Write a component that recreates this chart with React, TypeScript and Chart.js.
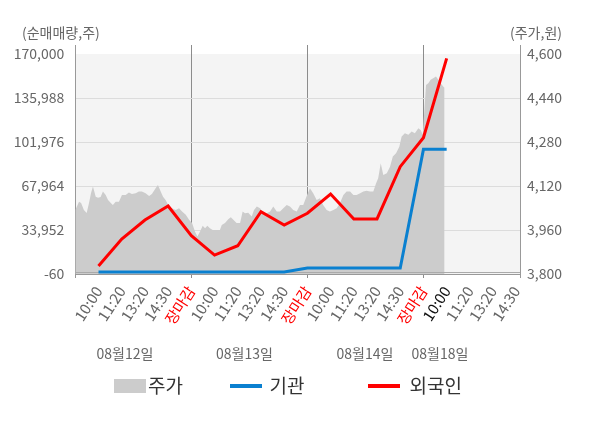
import React, { useEffect, useRef } from "react";
import { Chart, registerables } from "chart.js";

Chart.register(...registerables);

const FONT = "'Noto Sans CJK KR', 'Noto Sans', sans-serif";

// x axis: session slots (1..19), day boundaries at 장마감
const xTickPositions = [1, 2, 3, 4, 5, 6, 7, 8, 9, 10, 11, 12, 13, 14, 15, 16, 17, 18, 19];
const xTickLabels = [
  "10:00", "11:20", "13:20", "14:30", "장마감",
  "10:00", "11:20", "13:20", "14:30", "장마감",
  "10:00", "11:20", "13:20", "14:30", "장마감",
  "10:00", "11:20", "13:20", "14:30",
];
const xMax = 19.16;
const dayDividers = [5, 10, 15];
const dayLabels = ["08월12일", "08월13일", "08월14일", "08월18일"];
const dayLabelPositions = [2.14, 7.29, 12.48, 15.71];
const highlightTick = 16;

// net buying (left axis, 주)
const sessionPositions = [1, 2, 3, 4, 5, 6, 7, 8, 9, 10, 11, 12, 13, 14, 15, 16];
const foreignNet = [6100, 27000, 41700, 52500, 29500, 14600, 21800, 48100, 37800, 46900, 61800, 42500, 42500, 82900, 105300, 166600];
const institutionNet = [1500, 1500, 1500, 1500, 1500, 1500, 1500, 1500, 1500, 4600, 4600, 4600, 4600, 4600, 96300, 96300];

const leftTicks = [-60, 33952, 67964, 101976, 135988, 170000];
const leftMax = 176960;
const rightTicks = [3800, 3960, 4120, 4280, 4440, 4600];
const rightMax = 4632.7;

// stock price (right axis, 원)
const priceTimes = [
  0, 0.16, 0.25, 0.37, 0.49, 0.59, 0.68, 0.76, 0.88, 0.98,
  1.09, 1.19, 1.31, 1.41, 1.53, 1.62, 1.74, 1.88, 2.01, 2.17,
  2.31, 2.44, 2.6, 2.74, 2.87, 3.03, 3.18, 3.3, 3.46, 3.56,
  3.68, 3.78, 3.89, 4.04, 4.16, 4.33, 4.47, 4.6, 4.76, 4.9,
  5.03, 5.16, 5.26, 5.37, 5.49, 5.59, 5.69, 5.8, 5.92, 6.09,
  6.23, 6.31, 6.45, 6.59, 6.7, 6.81, 6.95, 7.1, 7.21, 7.31,
  7.45, 7.6, 7.7, 7.82, 7.96, 8.1, 8.25, 8.39, 8.53, 8.68,
  8.82, 8.96, 9.11, 9.25, 9.39, 9.54, 9.68, 9.82, 9.97, 10.11,
  10.25, 10.4, 10.54, 10.68, 10.83, 10.97, 11.12, 11.26, 11.4, 11.55,
  11.69, 11.84, 11.98, 12.12, 12.27, 12.41, 12.55, 12.7, 12.84, 12.96,
  13.05, 13.16, 13.27, 13.42, 13.56, 13.68, 13.82, 13.96, 14.06, 14.2,
  14.35, 14.49, 14.63, 14.78, 14.88, 14.97, 15.11, 15.21, 15.31, 15.42,
  15.54, 15.64, 15.74, 15.86, 15.91,
];
const prices = [
  4033, 4063, 4058, 4033, 4022, 4058, 4095, 4118, 4081, 4077,
  4080, 4100, 4087, 4069, 4058, 4051, 4063, 4063, 4087, 4087,
  4096, 4091, 4094, 4100, 4100, 4094, 4084, 4091, 4112, 4124,
  4100, 4081, 4069, 4045, 4039, 4033, 4039, 4027, 4015, 3997,
  3985, 3954, 3936, 3954, 3975, 3966, 3975, 3966, 3960, 3960,
  3960, 3978, 3985, 3999, 4006, 3997, 3985, 3985, 4027, 4021,
  4023, 4009, 4033, 4045, 4039, 4023, 4021, 4027, 4045, 4027,
  4027, 4039, 4051, 4045, 4033, 4027, 4051, 4051, 4084, 4112,
  4094, 4069, 4075, 4051, 4033, 4027, 4033, 4039, 4057, 4087,
  4100, 4100, 4087, 4087, 4094, 4100, 4103, 4100, 4100, 4130,
  4148, 4203, 4160, 4166, 4190, 4227, 4239, 4263, 4300, 4312,
  4306, 4318, 4312, 4330, 4324, 4306, 4487, 4494, 4506, 4512,
  4518, 4506, 4494, 4481, 4477,
];

const seriesLabels = ["주가", "기관", "외국인"];
const seriesColors = ["#cccccc", "#0a80d0", "#ff0000"];

const fmt = (v: number) => Number(v).toLocaleString("en-US");

const decorPlugin = {
  id: "decor",
  beforeDraw(chart: any) {
    const { ctx, chartArea: a, scales } = chart;
    const yTop = scales.y.getPixelForValue(leftTicks[leftTicks.length - 1]);
    ctx.save();
    ctx.fillStyle = "#f4f4f4";
    ctx.fillRect(a.left, yTop, a.right - a.left, a.bottom - yTop);
    ctx.restore();
  },
  afterDatasetDraw(chart: any, args: any) {
    if (args.index !== 0) return;
    const { ctx, chartArea: a } = chart;
    ctx.save();
    ctx.strokeStyle = "#aaaaaa";
    ctx.lineWidth = 1;
    ctx.beginPath();
    ctx.moveTo(a.left, a.bottom - 1.5);
    ctx.lineTo(a.right, a.bottom - 1.5);
    ctx.stroke();
    ctx.restore();
  },
  afterDraw(chart: any) {
    const { ctx, scales } = chart;
    ctx.save();
    // axis titles
    ctx.font = `14px ${FONT}`;
    ctx.fillStyle = "#666666";
    ctx.textBaseline = "middle";
    ctx.textAlign = "left";
    ctx.fillText("(순매매량,주)", 22, 33);
    ctx.textAlign = "right";
    ctx.fillText("(주가,원)", 562, 33);
    // day labels
    ctx.font = `14px ${FONT}`;
    ctx.textAlign = "center";
    dayLabels.forEach((d, i) => {
      ctx.fillText(d, scales.x.getPixelForValue(dayLabelPositions[i]), 354);
    });
    // legend
    const ly = 386;
    ctx.font = `19px ${FONT}`;
    ctx.textAlign = "left";
    ctx.fillStyle = seriesColors[0];
    ctx.fillRect(114, ly - 7, 32, 14);
    ctx.fillStyle = "#333333";
    ctx.fillText(seriesLabels[0], 148, ly);
    const lineItems = [
      { x: 230, tx: 269.5, i: 1 },
      { x: 368, tx: 409.5, i: 2 },
    ];
    lineItems.forEach((it) => {
      ctx.strokeStyle = seriesColors[it.i];
      ctx.lineWidth = 4;
      ctx.beginPath();
      ctx.moveTo(it.x, ly);
      ctx.lineTo(it.x + 32, ly);
      ctx.stroke();
      ctx.fillStyle = "#333333";
      ctx.fillText(seriesLabels[it.i], it.tx, ly);
    });
    ctx.restore();
  },
};

export default function App() {
  const ref = useRef<HTMLCanvasElement | null>(null);

  useEffect(() => {
    if (!ref.current) return;
    Chart.defaults.font.family = FONT;
    const chart = new Chart(ref.current, {
      type: "line",
      data: {
        datasets: [
          {
            label: seriesLabels[0],
            data: priceTimes.map((t, i) => ({ x: t, y: prices[i] })),
            yAxisID: "y1",
            borderWidth: 0,
            borderColor: "rgba(0,0,0,0)",
            backgroundColor: seriesColors[0],
            fill: "start",
            pointRadius: 0,
            order: 3,
          },
          {
            label: seriesLabels[1],
            data: sessionPositions.map((p, i) => ({ x: p, y: institutionNet[i] })),
            yAxisID: "y",
            borderColor: seriesColors[1],
            borderWidth: 3,
            pointRadius: 0,
            fill: false,
            order: 2,
          },
          {
            label: seriesLabels[2],
            data: sessionPositions.map((p, i) => ({ x: p, y: foreignNet[i] })),
            yAxisID: "y",
            borderColor: seriesColors[2],
            borderWidth: 3,
            pointRadius: 0,
            fill: false,
            order: 1,
          },
        ],
      },
      options: {
        responsive: false,
        animation: false,
        layout: { padding: { top: 45, left: 0, right: 0, bottom: 0 } },
        plugins: { legend: { display: false }, tooltip: { enabled: false } },
        scales: {
          x: {
            type: "linear",
            min: 0,
            max: xMax,
            z: 1,
            afterBuildTicks: (s: any) => {
              s.ticks = [0, ...xTickPositions, xMax].map((v) => ({ value: v }));
            },
            afterFit: (s: any) => {
              s.height = 154;
            },
            grid: {
              color: (c: any) => {
                const v = c.tick ? c.tick.value : -1;
                if (v === 0 || v === xMax) return "#999999";
                return dayDividers.includes(v) ? "#8c8c8c" : "rgba(0,0,0,0)";
              },
              drawTicks: true,
              tickLength: 4,
              lineWidth: 1,
            },
            border: { display: true, color: "#999999" },
            ticks: {
              autoSkip: false,
              minRotation: 57,
              maxRotation: 57,
              padding: 5,
              font: { size: 15, family: FONT },
              color: (c: any) => {
                const v = c.tick ? c.tick.value : 0;
                const idx = xTickPositions.indexOf(v);
                if (idx < 0) return "#666666";
                if (xTickLabels[idx] === "장마감") return "#ff0000";
                if (v === highlightTick) return "#111111";
                return "#666666";
              },
              callback: (v: any) => {
                const idx = xTickPositions.indexOf(Number(v));
                return idx >= 0 ? xTickLabels[idx] : "";
              },
            },
          },
          y: {
            type: "linear",
            position: "left",
            min: leftTicks[0],
            max: leftMax,
            afterBuildTicks: (s: any) => {
              s.ticks = leftTicks.map((v) => ({ value: v }));
            },
            afterFit: (s: any) => {
              s.width = 75.3;
            },
            grid: {
              color: (c: any) => {
                const v = c.tick ? c.tick.value : 0;
                if (v === leftTicks[leftTicks.length - 1]) return "rgba(0,0,0,0)";
                if (v === leftTicks[0]) return "#999999";
                return "#dcdcdc";
              },
              drawTicks: false,
              lineWidth: 1,
            },
            border: { display: true, color: "#999999" },
            ticks: {
              padding: 11,
              font: { size: 14, family: FONT },
              color: "#666666",
              callback: (v: any) => fmt(v),
            },
          },
          y1: {
            type: "linear",
            position: "right",
            min: rightTicks[0],
            max: rightMax,
            afterBuildTicks: (s: any) => {
              s.ticks = rightTicks.map((v) => ({ value: v }));
            },
            afterFit: (s: any) => {
              s.width = 80;
            },
            grid: { display: false, drawTicks: false },
            border: { display: true, color: "#999999" },
            ticks: {
              padding: 7,
              font: { size: 14, family: FONT },
              color: "#666666",
              callback: (v: any) => fmt(v),
            },
          },
        },
      },
      plugins: [decorPlugin],
    } as any);
    return () => chart.destroy();
  }, []);

  return (
    <div style={{ position: "absolute", left: 0, top: 0, width: 600, height: 428, background: "#ffffff" }}>
      <canvas ref={ref} width={600} height={428} style={{ width: 600, height: 428, display: "block" }} />
    </div>
  );
}
